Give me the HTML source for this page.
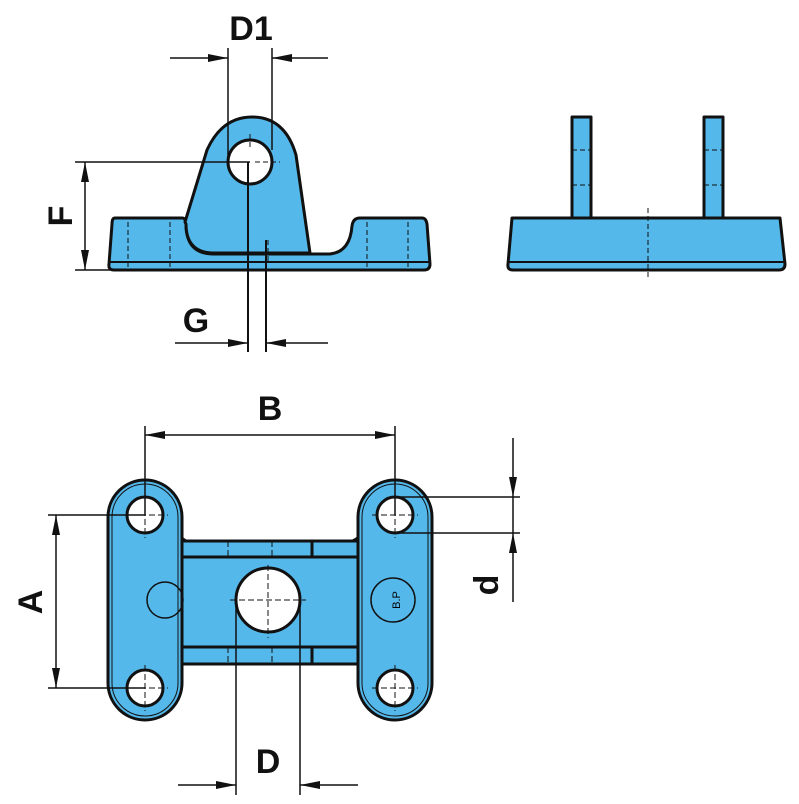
<!DOCTYPE html>
<html><head><meta charset="utf-8"><style>html,body{margin:0;padding:0;background:#fff}svg{display:block}</style></head><body>
<svg width="799" height="804" viewBox="0 0 799 804" xmlns="http://www.w3.org/2000/svg" font-family="Liberation Sans, sans-serif" font-weight="bold">
<defs>
<marker id="ar" viewBox="0 0 20 8" refX="20" refY="4" markerWidth="20" markerHeight="8" markerUnits="userSpaceOnUse" orient="auto"><path d="M0,0L20,4L0,8z" fill="#111"/></marker>
</defs>
<g stroke="#111" fill="#55b8ea" stroke-linejoin="round">
<!-- top-left side view -->
<path d="M115,218 L182,218 Q186,218 186,224 Q186,253 212,254 L330,254 Q350,252 352,226 Q353,218 360,218 L422,218 Q426,218 427,224 L430,264 Q430,270 424,270 L114,270 Q108,270 109,264 L112,224 Q112,218 115,218Z" stroke-width="3"/>
<line x1="110" y1="262" x2="430" y2="262" stroke-width="2"/>
<path d="M185,222 L207,150 Q222,117 252,117 Q285,117 296,155 L310,253 L212,253 Q186,252 186,224Z" stroke-width="3"/>
<circle cx="250" cy="162" r="22" fill="#fff" stroke-width="3"/>
<g stroke-width="1" stroke-dasharray="5,3" fill="none"><line x1="128" y1="222" x2="128" y2="268"/><line x1="170" y1="222" x2="170" y2="268"/><line x1="367" y1="222" x2="367" y2="268"/><line x1="408" y1="222" x2="408" y2="268"/><line x1="268" y1="240" x2="268" y2="262"/><line x1="250" y1="134" x2="250" y2="150"/><line x1="255" y1="162" x2="280" y2="162"/></g>
<!-- top-right -->
<rect x="572" y="117" width="19" height="102" stroke-width="3"/>
<rect x="704" y="117" width="19" height="102" stroke-width="3"/>
<path d="M512,218 L780,218 L785,264 Q785,270 779,270 L513,270 Q507,270 508,264Z" stroke-width="3"/>
<line x1="508" y1="262" x2="785" y2="262" stroke-width="2"/>
<g stroke-width="1" stroke-dasharray="5,3" fill="none"><line x1="572" y1="150" x2="591" y2="150"/><line x1="572" y1="185" x2="591" y2="185"/><line x1="704" y1="150" x2="723" y2="150"/><line x1="704" y1="185" x2="723" y2="185"/><line x1="648" y1="208" x2="648" y2="278"/></g>
<!-- bottom view -->
<path d="M175,530 Q185,545 195,542 L340,542 Q355,545 365,530 L365,672 Q355,657 340,660 L195,660 Q185,657 175,672Z" stroke-width="3"/>
<rect x="178" y="541" width="182" height="16" stroke-width="3"/>
<rect x="178" y="647" width="182" height="17" stroke-width="3"/>
<line x1="312" y1="541" x2="312" y2="557" stroke-width="3"/><line x1="312" y1="647" x2="312" y2="664" stroke-width="3"/>
<rect x="108" y="480" width="74" height="240" rx="37" stroke-width="3"/>
<rect x="112" y="484" width="66" height="232" rx="33" stroke-width="1" fill="none"/>
<rect x="358" y="480" width="74" height="240" rx="37" stroke-width="3"/>
<rect x="362" y="484" width="66" height="232" rx="33" stroke-width="1" fill="none"/>
<circle cx="145" cy="515" r="18" fill="#fff" stroke-width="3"/>
<circle cx="145" cy="688" r="18" fill="#fff" stroke-width="3"/>
<circle cx="395" cy="515" r="18" fill="#fff" stroke-width="3"/>
<circle cx="395" cy="688" r="18" fill="#fff" stroke-width="3"/>
<circle cx="268" cy="600" r="32" fill="#fff" stroke-width="3"/>
<circle cx="165" cy="600" r="18" fill="none" stroke-width="1.5"/>
<circle cx="393" cy="600" r="22" fill="none" stroke-width="1.5"/>
<g stroke-width="1" stroke-dasharray="6,3" fill="none"><line x1="230" y1="600" x2="306" y2="600"/><line x1="268" y1="565" x2="268" y2="638"/><line x1="228" y1="541" x2="228" y2="557"/><line x1="272" y1="541" x2="272" y2="557"/><line x1="228" y1="647" x2="228" y2="664"/><line x1="272" y1="647" x2="272" y2="664"/>
<line x1="122" y1="515" x2="168" y2="515"/><line x1="145" y1="492" x2="145" y2="538"/><line x1="122" y1="688" x2="168" y2="688"/><line x1="145" y1="665" x2="145" y2="711"/><line x1="372" y1="515" x2="418" y2="515"/><line x1="395" y1="492" x2="395" y2="538"/><line x1="372" y1="688" x2="418" y2="688"/><line x1="395" y1="665" x2="395" y2="711"/></g>
</g>
<text x="393" y="607" font-size="11" font-weight="normal" text-anchor="middle" transform="rotate(-90 393 600)">B.P</text>
<!-- dimensions -->
<g stroke="#111" stroke-width="1.5" fill="none">
<line x1="228" y1="48" x2="228" y2="162"/><line x1="272" y1="48" x2="272" y2="150"/>
<line x1="170" y1="58" x2="228" y2="58" marker-end="url(#ar)"/><line x1="328" y1="58" x2="272" y2="58" marker-end="url(#ar)"/>
<line x1="75" y1="162" x2="250" y2="162"/><line x1="75" y1="270" x2="110" y2="270"/>
<line x1="85" y1="216" x2="85" y2="162" marker-end="url(#ar)"/><line x1="85" y1="216" x2="85" y2="270" marker-end="url(#ar)"/>
<line x1="248" y1="162" x2="248" y2="352" stroke-width="2"/><line x1="266" y1="240" x2="266" y2="352" stroke-width="2"/>
<line x1="175" y1="343" x2="248" y2="343" marker-end="url(#ar)"/><line x1="328" y1="343" x2="266" y2="343" marker-end="url(#ar)"/>
<line x1="145" y1="426" x2="145" y2="515"/><line x1="395" y1="426" x2="395" y2="515"/>
<line x1="270" y1="435" x2="145" y2="435" marker-end="url(#ar)"/><line x1="270" y1="435" x2="395" y2="435" marker-end="url(#ar)"/>
<line x1="48" y1="515" x2="145" y2="515"/><line x1="48" y1="688" x2="145" y2="688"/>
<line x1="56" y1="600" x2="56" y2="515" marker-end="url(#ar)"/><line x1="56" y1="600" x2="56" y2="688" marker-end="url(#ar)"/>
<line x1="395" y1="497" x2="520" y2="497"/><line x1="395" y1="533" x2="520" y2="533"/>
<line x1="513" y1="438" x2="513" y2="497" marker-end="url(#ar)"/><line x1="513" y1="602" x2="513" y2="533" marker-end="url(#ar)"/><line x1="513" y1="497" x2="513" y2="533"/>
<line x1="236" y1="600" x2="236" y2="795"/><line x1="300" y1="600" x2="300" y2="795"/>
<line x1="178" y1="785" x2="236" y2="785" marker-end="url(#ar)"/><line x1="358" y1="785" x2="300" y2="785" marker-end="url(#ar)"/>
</g>
<g fill="#111" font-size="34" text-anchor="middle">
<text x="251" y="40">D1</text>
<text x="196" y="332">G</text>
<text x="270" y="420">B</text>
<text x="268" y="773">D</text>
<text x="0" y="0" transform="translate(72,216) rotate(-90)">F</text>
<text x="0" y="0" transform="translate(42,602) rotate(-90)">A</text>
<text x="0" y="0" transform="translate(498,585) rotate(-90)">d</text>
</g>
</svg>
</body></html>
